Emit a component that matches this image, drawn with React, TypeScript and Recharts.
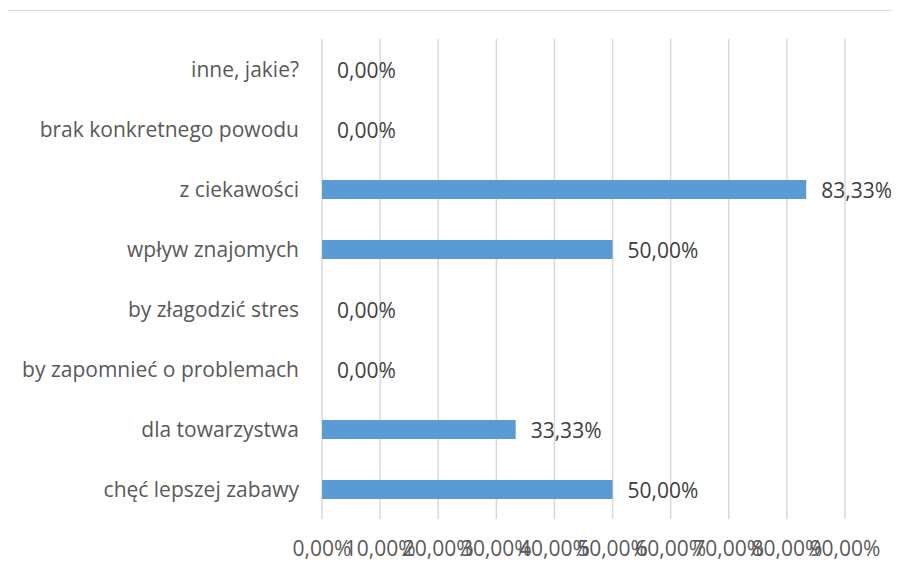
import { BarChart, Bar, XAxis, YAxis, CartesianGrid } from 'recharts';

const categories = [
  'inne, jakie?',
  'brak konkretnego powodu',
  'z ciekawości',
  'wpływ znajomych',
  'by złagodzić stres',
  'by zapomnieć o problemach',
  'dla towarzystwa',
  'chęć lepszej zabawy',
];
const values = [0, 0, 83.33, 50, 0, 0, 33.33, 50];
const xTicks = [0, 10, 20, 30, 40, 50, 60, 70, 80, 90];

const data = categories.map((name, i) => ({ name, value: values[i] }));

const FONT = '"Open Sans", Lato, sans-serif';
const pct = (v: number) => `${v.toFixed(2).replace('.', ',')}%`;

function CatTick(props: any) {
  const { x, y, payload } = props;
  return (
    <text x={x} y={y} dy={8} textAnchor="end" fontFamily={FONT} fontSize={21} fill="#595959">
      {payload.value}
    </text>
  );
}

function NumTick(props: any) {
  const { x, y, payload } = props;
  return (
    <text x={x} y={y} dy={29} textAnchor="middle" fontFamily={FONT} fontSize={21} fill="#595959">
      {pct(payload.value)}
    </text>
  );
}

function ValueLabel(props: any) {
  const { x, y, width, height, value } = props;
  return (
    <text
      x={Number(x) + Number(width || 0) + 15}
      y={Number(y) + Number(height) / 2}
      dy={8}
      textAnchor="start"
      fontFamily={FONT}
      fontSize={21}
      fill="#404040"
    >
      {pct(Number(value))}
    </text>
  );
}

export default function App() {
  return (
    <div style={{ position: 'relative', width: 891, height: 558, overflow: 'hidden' }}>
      <div
        style={{
          position: 'absolute',
          left: -1,
          top: 2,
          width: 1000,
          height: 1000,
          borderTop: '1px solid #d9d9d9',
          borderLeft: '1px solid #d9d9d9',
        }}
      />
      <BarChart
        width={891}
        height={558}
        data={data}
        layout="vertical"
        margin={{ top: 31, right: 54, bottom: 0, left: 0 }}
        style={{ position: 'absolute', left: 0, top: 0 }}
      >
        <CartesianGrid horizontal={false} stroke="#d9d9d9" strokeWidth={1.5} />
        <XAxis
          type="number"
          domain={[0, 90]}
          ticks={xTicks}
          tick={<NumTick />}
          axisLine={false}
          tickLine={false}
          height={47}
          interval={0}
        />
        <YAxis
          type="category"
          dataKey="name"
          width={314}
          tick={<CatTick />}
          axisLine={false}
          tickLine={false}
          tickMargin={17}
          interval={0}
        />
        <Bar
          dataKey="value"
          fill="#5b9bd5"
          barSize={19}
          minPointSize={0.01}
          isAnimationActive={false}
          label={<ValueLabel />}
        />
      </BarChart>
    </div>
  );
}
